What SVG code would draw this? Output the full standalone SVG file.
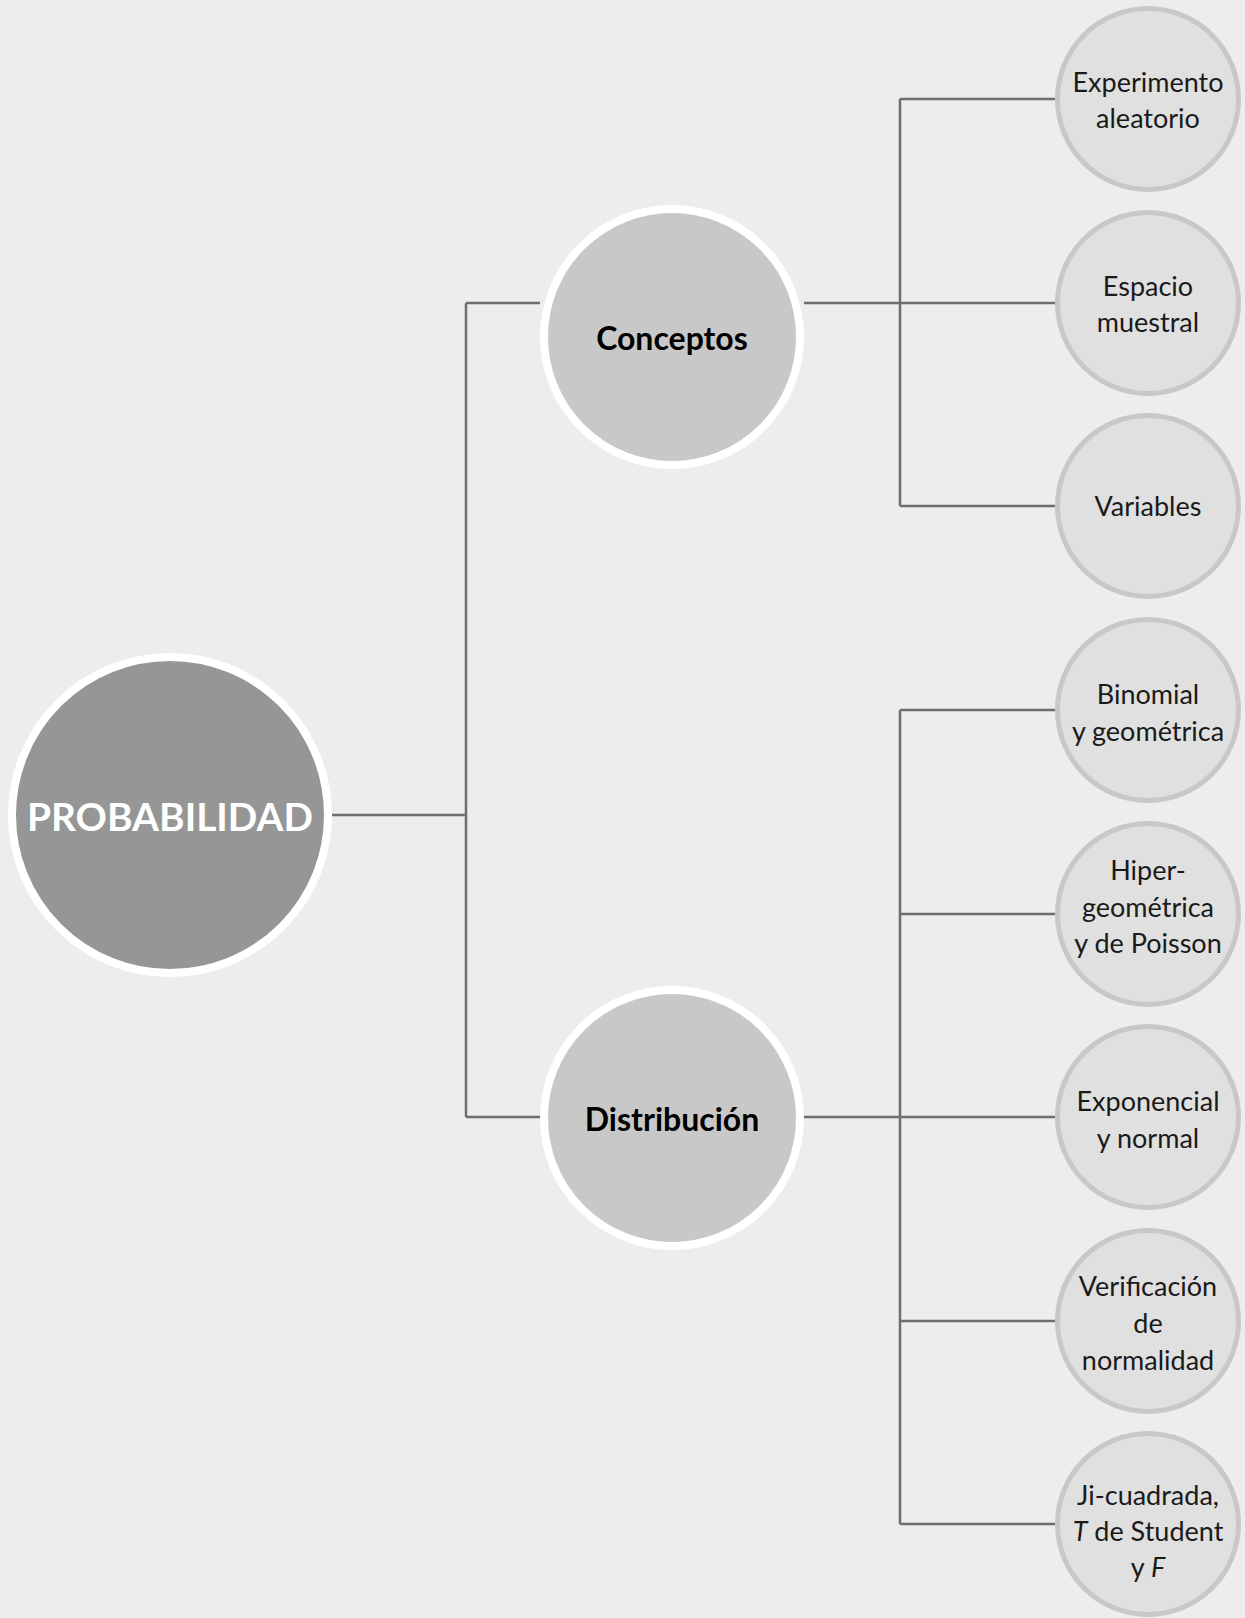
<svg xmlns="http://www.w3.org/2000/svg" width="1245" height="1618" viewBox="0 0 1245 1618">
<style>
.conn{stroke:#6e6e6e;stroke-width:2.5;fill:none}
.root{fill:#969696;stroke:#ffffff;stroke-width:8}
.mid{fill:#c8c8c8;stroke:#ffffff;stroke-width:8}
.leaf{fill:#e0e0e0;stroke:#c8c8c8;stroke-width:5}
.rt{font-family:Lato,"Open Sans",sans-serif;font-weight:bold;font-size:38px;fill:#ffffff;text-anchor:middle}
.mt{font-family:Lato,"Open Sans",sans-serif;font-weight:bold;font-size:32px;fill:#000000;text-anchor:middle}
.lt{font-family:Lato,"Open Sans",sans-serif;font-size:27px;fill:#1a1a1a;text-anchor:middle}
</style>
<rect width="1245" height="1618" fill="#ededed"/>
<g id="connectors">
<path class="conn" d="M332 815H466M466 303V1117M466 303H540M466 1117H540"/>
<path class="conn" d="M804 303H900M900 99V506M900 99H1055M900 303H1055M900 506H1055"/>
<path class="conn" d="M804 1117H900M900 710V1524M900 710H1055M900 914H1055M900 1117H1055M900 1321H1055M900 1524H1055"/>
</g>
<g id="probabilidad">
<circle class="root" cx="170" cy="815" r="158"/>
<text class="rt" x="170" y="831" textLength="286" lengthAdjust="spacingAndGlyphs">PROBABILIDAD</text>
</g>
<g id="conceptos">
<circle class="mid" cx="672" cy="337" r="128"/>
<text class="mt" x="672" y="350">Conceptos</text>
</g>
<g id="distribucion">
<circle class="mid" cx="672" cy="1118" r="128"/>
<text class="mt" x="672" y="1131">Distribución</text>
</g>
<g id="experimento">
<circle class="leaf" cx="1148" cy="99" r="90.5"/>
<text class="lt" x="1148" y="92">Experimento</text>
<text class="lt" x="1148" y="128">aleatorio</text>
</g>
<g id="espacio">
<circle class="leaf" cx="1148" cy="303" r="90.5"/>
<text class="lt" x="1148" y="296">Espacio</text>
<text class="lt" x="1148" y="332">muestral</text>
</g>
<g id="variables">
<circle class="leaf" cx="1148" cy="506" r="90.5"/>
<text class="lt" x="1148" y="516">Variables</text>
</g>
<g id="binomial">
<circle class="leaf" cx="1148" cy="710" r="90.5"/>
<text class="lt" x="1148" y="704">Binomial</text>
<text class="lt" x="1148" y="741">y geométrica</text>
</g>
<g id="hiper">
<circle class="leaf" cx="1148" cy="914" r="90.5"/>
<text class="lt" x="1148" y="880">Hiper-</text>
<text class="lt" x="1148" y="917">geométrica</text>
<text class="lt" x="1148" y="953">y de Poisson</text>
</g>
<g id="exponencial">
<circle class="leaf" cx="1148" cy="1117" r="90.5"/>
<text class="lt" x="1148" y="1111">Exponencial</text>
<text class="lt" x="1148" y="1148">y normal</text>
</g>
<g id="verificacion">
<circle class="leaf" cx="1148" cy="1321" r="90.5"/>
<text class="lt" x="1148" y="1296">Verificación</text>
<text class="lt" x="1148" y="1333">de</text>
<text class="lt" x="1148" y="1370">normalidad</text>
</g>
<g id="jicuadrada">
<circle class="leaf" cx="1148" cy="1524" r="90.5"/>
<text class="lt" x="1148" y="1505">Ji-cuadrada,</text>
<text class="lt" x="1148" y="1541"><tspan font-style="italic">T</tspan> de Student</text>
<text class="lt" x="1148" y="1577">y <tspan font-style="italic">F</tspan></text>
</g>
</svg>
